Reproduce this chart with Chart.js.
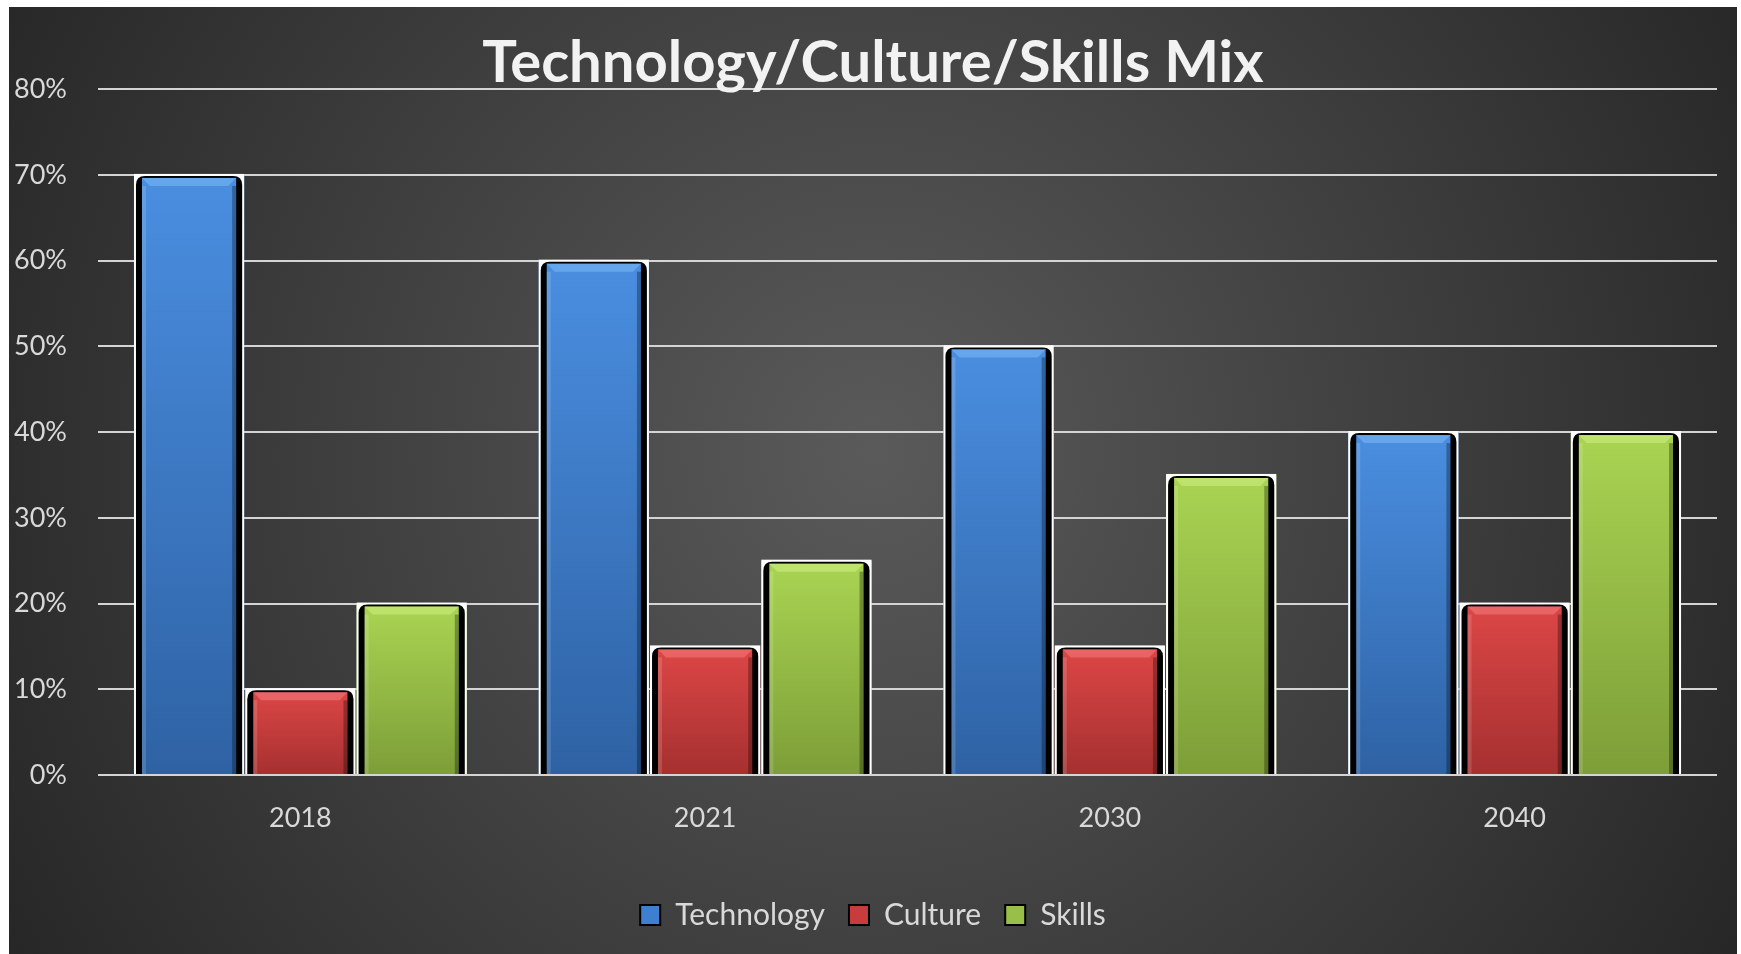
<!DOCTYPE html>
<html>
<head>
<meta charset="utf-8">
<script src="https://cdn.jsdelivr.net/npm/chart.js@4"></script>
<style>
  html, body { margin: 0; padding: 0; background: #ffffff; }
  #wrap { position: absolute; left: 9px; top: 7px; width: 1728px; height: 947px; }
</style>
</head>
<body>
<div id="wrap"><canvas id="chart1"></canvas></div>
<script>
// chart values
const years = ['2018', '2021', '2030', '2040'];
const technology = [70, 60, 50, 40];
const culture = [10, 15, 15, 20];
const skills = [20, 25, 35, 40];
const yTicks = [0, 10, 20, 30, 40, 50, 60, 70, 80];

// colours for the bevelled bars (top, bottom, highlight)
const barLook = [
    { base: '#3f7fcf', top: '#4a8ee0', bottom: '#2e62a4', hi: '#79b6f2' },
    { base: '#c83c3c', top: '#dc4646', bottom: '#a63030', hi: '#f27a7a' },
    { base: '#98c048', top: '#a9d452', bottom: '#7d9e38', hi: '#cdee80' }
];

const bgPlugin = {
    id: 'bg',
    beforeDraw(chart) {
        const c = chart.ctx, w = chart.width, h = chart.height;
        const g = c.createRadialGradient(w * 0.5, h * 0.47, 0, w * 0.5, h * 0.47, 990);
        g.addColorStop(0, '#5a5a5a');
        g.addColorStop(1, '#272727');
        c.save();
        c.fillStyle = g;
        c.fillRect(0, 0, w, h);
        c.restore();
    }
};

function roundTop(c, x, y, w, h, r) {
    c.beginPath();
    c.moveTo(x, y + h);
    c.lineTo(x, y + r);
    c.quadraticCurveTo(x, y, x + r, y);
    c.lineTo(x + w - r, y);
    c.quadraticCurveTo(x + w, y, x + w, y + r);
    c.lineTo(x + w, y + h);
    c.closePath();
}

// paints the white frame, black sides and bevel over each bar element
const bevelPlugin = {
    id: 'bevel',
    afterDatasetsDraw(chart) {
        const c = chart.ctx;
        chart.data.datasets.forEach((ds, i) => {
            const look = barLook[i];
            chart.getDatasetMeta(i).data.forEach(bar => {
                const p = bar.getProps(['x', 'y', 'base', 'width'], true);
                const L = p.x - p.width / 2, R = p.x + p.width / 2;
                const T = p.y, B = p.base;
                c.save();
                c.fillStyle = '#ffffff';
                c.fillRect(L, T - 1, R - L, B - T + 1);
                c.fillStyle = '#000000';
                roundTop(c, L + 2, T + 1, R - L - 4, B - T - 1, 9);
                c.fill();
                const iL = L + 8, iR = R - 8, iT = T + 3;
                const g = c.createLinearGradient(0, iT, 0, B);
                g.addColorStop(0, look.top);
                g.addColorStop(1, look.bottom);
                c.fillStyle = g;
                c.fillRect(iL, iT, iR - iL, B - iT);
                // top highlight
                const b = 8;
                c.fillStyle = look.hi;
                c.globalAlpha = 0.6;
                c.beginPath();
                c.moveTo(iL, iT); c.lineTo(iR, iT); c.lineTo(iR - b, iT + b); c.lineTo(iL + b, iT + b);
                c.closePath(); c.fill();
                // side shading
                c.globalAlpha = 0.15;
                c.fillStyle = '#ffffff';
                c.fillRect(iL, iT + b, 4, B - iT - b);
                c.fillStyle = '#000000';
                c.globalAlpha = 0.3;
                c.fillRect(iR - 4, iT + b, 4, B - iT - b);
                c.restore();
            });
        });
    }
};

const ctx1 = document.getElementById('chart1').getContext('2d');
new Chart(ctx1, {
    type: 'bar',
    data: {
        labels: years,
        datasets: [
            { label: 'Technology', data: technology, backgroundColor: barLook[0].base, borderWidth: 0 },
            { label: 'Culture', data: culture, backgroundColor: barLook[1].base, borderWidth: 0 },
            { label: 'Skills', data: skills, backgroundColor: barLook[2].base, borderWidth: 0 }
        ]
    },
    options: {
        responsive: true,
        maintainAspectRatio: false,
        animation: false,
        layout: { padding: { left: 0, right: 0, top: 0, bottom: 14 } },
        datasets: { bar: { categoryPercentage: 0.825, barPercentage: 0.99 } },
        plugins: {
            title: {
                display: true,
                text: 'Technology/Culture/Skills Mix',
                color: '#f2f2f2',
                font: { family: 'Lato', size: 58, weight: 'bold', lineHeight: 0.9 },
                padding: { top: 30, bottom: 0 }
            },
            legend: {
                position: 'bottom',
                labels: {
                    color: '#d9d9d9',
                    font: { family: 'Lato', size: 30 },
                    boxWidth: 20,
                    boxHeight: 20,
                    padding: 24,
                    generateLabels(chart) {
                        return chart.data.datasets.map((ds, i) => ({
                            text: ds.label,
                            fillStyle: barLook[i].base,
                            strokeStyle: '#000000',
                            lineWidth: 2,
                            fontColor: '#d9d9d9',
                            datasetIndex: i
                        }));
                    }
                }
            },
            tooltip: { enabled: false }
        },
        scales: {
            x: {
                grid: { display: false },
                border: { display: false },
                ticks: { color: '#d9d9d9', font: { family: 'Lato', size: 27 }, padding: 19 },
                afterFit(scale) { scale.height = 101; }
            },
            y: {
                min: 0,
                max: 80,
                afterBuildTicks(scale) { scale.ticks = yTicks.map(v => ({ value: v })); },
                grid: { color: '#d4d4d4', lineWidth: 2, drawTicks: false },
                border: { display: false },
                ticks: {
                    color: '#d9d9d9',
                    font: { family: 'Lato', size: 27 },
                    padding: 31,
                    callback: v => v + '%'
                },
                afterFit(scale) { scale.width = 89; }
            },
            // empty right-hand spacer so the plot stops short of the edge
            spacer: {
                position: 'right',
                grid: { display: false },
                border: { display: false },
                ticks: { display: false },
                afterFit(scale) { scale.width = 20; }
            }
        }
    },
    plugins: [bgPlugin, bevelPlugin]
});
</script>
</body>
</html>
